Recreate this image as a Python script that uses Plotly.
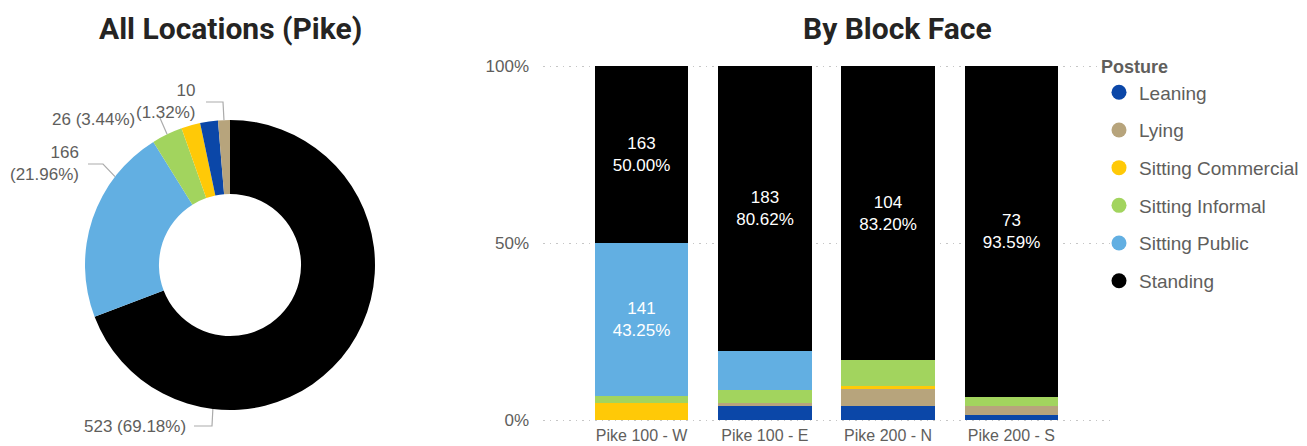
import math
import plotly.graph_objects as go

W, H = 1307, 446

# ---- data -------------------------------------------------------------
postures = ["Leaning", "Lying", "Sitting Commercial", "Sitting Informal",
            "Sitting Public", "Standing"]
block_faces = ["Pike 100 - W", "Pike 100 - E", "Pike 200 - N", "Pike 200 - S"]

leaning            = [0, 9, 5, 1]
lying              = [0, 2, 6, 2]
sitting_commercial = [15, 0, 1, 0]
sitting_informal   = [7, 8, 9, 2]
sitting_public     = [141, 25, 0, 0]
standing           = [163, 183, 104, 73]

counts = {
    "Leaning": leaning,
    "Lying": lying,
    "Sitting Commercial": sitting_commercial,
    "Sitting Informal": sitting_informal,
    "Sitting Public": sitting_public,
    "Standing": standing,
}

colors = {
    "Leaning": "#0B47A8",
    "Lying": "#B7A47C",
    "Sitting Commercial": "#FFC907",
    "Sitting Informal": "#A2D45E",
    "Sitting Public": "#62AFE2",
    "Standing": "#000000",
}

GREY = "#605E5C"
DARK = "#252423"
FONT = "Liberation Sans, Arial, sans-serif"
TITLE_FONT = "Roboto, Lato, sans-serif"


def px(x):
    return x / W


def py(y):
    return 1 - y / H


fig = go.Figure()

# ---- donut: all locations ---------------------------------------------
totals = {p: sum(counts[p]) for p in postures}
grand = sum(totals.values())
donut_order = sorted(postures, key=lambda p: -totals[p])

cx, cy, R = 230, 265, 145
fig.add_trace(go.Pie(
    labels=donut_order,
    values=[totals[p] for p in donut_order],
    marker=dict(colors=[colors[p] for p in donut_order], line=dict(width=0)),
    hole=0.49,
    sort=False,
    direction="clockwise",
    rotation=0,
    textinfo="none",
    showlegend=False,
    domain=dict(x=[px(cx - R), px(cx + R)], y=[py(cy + R), py(cy - R)]),
))

# slice angular extents (degrees clockwise from 12 o'clock)
extent = {}
acc = 0.0
for p in donut_order:
    a0 = acc / grand * 360
    acc += totals[p]
    extent[p] = (a0, acc / grand * 360)


def edge_point(p, frac):
    a0, a1 = extent[p]
    ang = math.radians(a0 + frac * (a1 - a0))
    return cx + R * math.sin(ang), cy - R * math.cos(ang)


# outside labels: (posture, position within slice, text anchor, elbow, two-line)
donut_labels = [
    ("Standing", 0.75, (188, 426), (194, 426, 212, 426), False),
    ("Sitting Public", 0.74, (81, 163), (88, 164, 103, 164), True),
    ("Sitting Informal", 0.5, (137, 119), (160, 118, 160, 118), False),
    ("Lying", 0.5, (198, 101), (206, 102, 223, 102), True),
]
for p, frac, (tx, ty), (ex0, ey0, ex1, ey1), two_line in donut_labels:
    pct = totals[p] / grand * 100
    sep = "<br>" if two_line else " "
    fig.add_annotation(
        x=px(tx), y=py(ty), xref="paper", yref="paper",
        text=f"{totals[p]}{sep}({pct:.2f}%)", showarrow=False,
        xanchor="right", yanchor="middle", align="right",
        font=dict(family=FONT, size=17, color=GREY),
    )
    ax, ay = edge_point(p, frac)
    path = f"M {px(ex0)} {py(ey0)} L {px(ex1)} {py(ey1)} L {px(ax)} {py(ay)}"
    fig.add_shape(type="path", path=path, xref="paper", yref="paper",
                  line=dict(color="#ABABAB", width=1.2))

# ---- stacked 100% bars: by block face ---------------------------------
face_totals = [sum(counts[p][i] for p in postures) for i in range(len(block_faces))]
for p in postures:
    texts = []
    for i, v in enumerate(counts[p]):
        share = v / face_totals[i]
        texts.append(f"{v}<br>{share * 100:.2f}%" if share >= 0.2 else "")
    fig.add_trace(go.Bar(
        x=block_faces, y=counts[p], name=p,
        marker=dict(color=colors[p], line=dict(width=0)),
        width=0.76,
        text=texts, textposition="inside", insidetextanchor="middle",
        textangle=0,
        textfont=dict(family=FONT, size=17, color="white"),
        showlegend=False, xaxis="x", yaxis="y",
    ))

# legend entries drawn as round markers, one group each for even spacing
for p in postures:
    fig.add_trace(go.Scatter(
        x=[None], y=[None], mode="markers", name=p, legendgroup=p,
        marker=dict(symbol="circle", size=15, color=colors[p]),
        xaxis="x", yaxis="y",
    ))

# value axis padded a hair so the 0% and 100% grid lines are drawn
Y_PAD = 0.005
y_top, y_bot = 66, 420
pad_px = Y_PAD * (y_bot - y_top)

fig.update_layout(
    width=W, height=H,
    margin=dict(l=0, r=0, t=0, b=0, pad=0, autoexpand=False),
    paper_bgcolor="white", plot_bgcolor="white",
    barmode="stack", barnorm="fraction", bargap=0,
    xaxis=dict(domain=[px(543), px(1110)], range=[-0.8, 3.8],
               showgrid=False, zeroline=False, showline=False, ticks="",
               automargin=False, ticklabelstandoff=2,
               tickfont=dict(family=FONT, size=16, color=GREY)),
    yaxis=dict(domain=[py(y_bot + pad_px), py(y_top - pad_px)],
               range=[-Y_PAD, 1 + Y_PAD],
               tickvals=[0, 0.5, 1], tickformat=".0%",
               showgrid=True, gridcolor="#C6C6C6", griddash="1.5px,5px",
               gridwidth=1.2,
               zeroline=False, showline=False, ticks="",
               automargin=False, ticklabelstandoff=13,
               tickfont=dict(family=FONT, size=17, color=GREY)),
    legend=dict(
        x=px(1099), y=py(50), xanchor="left", yanchor="top",
        title=dict(text="<b>Posture</b>",
                   font=dict(family=FONT, size=18, color=GREY)),
        font=dict(family=FONT, size=19, color=GREY),
        traceorder="grouped", tracegroupgap=10, itemwidth=30,
        bgcolor="rgba(0,0,0,0)",
    ),
    annotations=list(fig.layout.annotations) + [
        dict(x=px(230), y=py(29), xref="paper", yref="paper",
             text="<b>All Locations (Pike)</b>", showarrow=False,
             xanchor="center", yanchor="middle",
             font=dict(family=TITLE_FONT, size=30, color=DARK)),
        dict(x=px(897), y=py(29), xref="paper", yref="paper",
             text="<b>By Block Face</b>", showarrow=False,
             xanchor="center", yanchor="middle",
             font=dict(family=TITLE_FONT, size=30, color=DARK)),
    ],
)

fig.write_html("out.html")
